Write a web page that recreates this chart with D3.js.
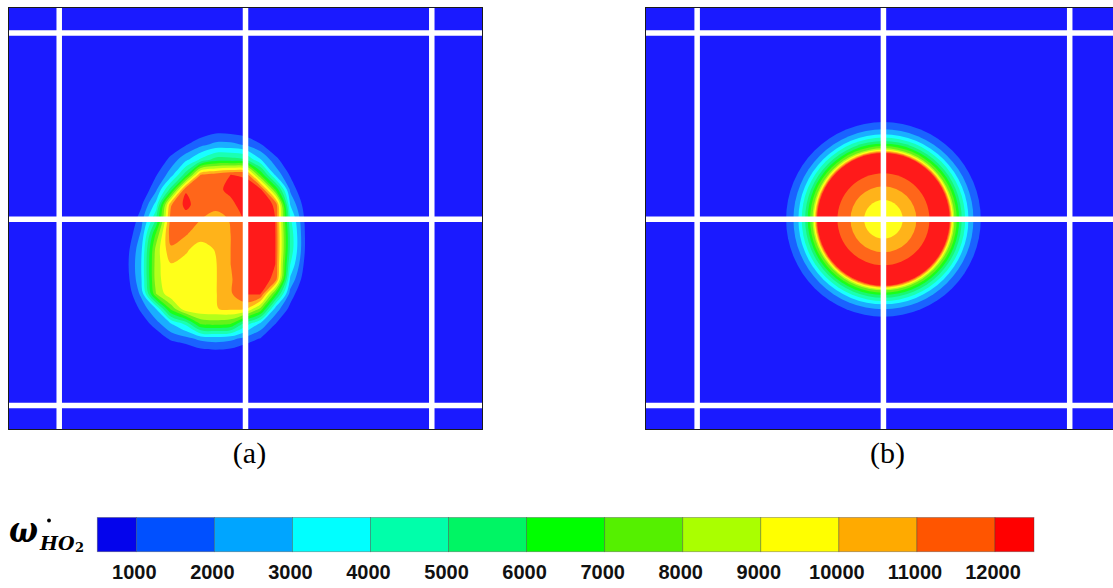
<!DOCTYPE html>
<html><head><meta charset="utf-8">
<script src="https://cdn.jsdelivr.net/npm/d3@7"></script>
<style>html,body{margin:0;padding:0;background:#fff;} svg{display:block;}</style>
</head><body>
<svg id="chart" width="1113" height="588"></svg>
<script>
// ---------------- data ----------------
const levels = [1000, 2000, 3000, 4000, 5000, 6000, 7000, 8000, 9000, 10000, 11000, 12000];
const tickLabels = ["1000", "2000", "3000", "4000", "5000", "6000", "7000", "8000", "9000", "10000", "11000", "12000"];
const barRange = [500, 12500];
const barColors = ["#0404ec", "#0050ff", "#00a5ff", "#00ffff", "#00ffaa", "#00f564", "#00ff00", "#55f000",
                   "#aaff00", "#ffff00", "#ffaa00", "#ff5500", "#ff0000"];
const gridLines = [-1, 0, 1];
const panelLabels = ["(a)", "(b)"];

// panel (a): reaction-rate field read on a regular grid
const fieldAX = [-0.72, -0.64, -0.56, -0.48, -0.40, -0.32, -0.24, -0.16, -0.08, 0.00, 0.08, 0.16, 0.24, 0.32, 0.40];
const fieldAY = [0.56, 0.48, 0.40, 0.32, 0.24, 0.16, 0.08, 0.00, -0.08, -0.16, -0.24, -0.32, -0.40, -0.48, -0.56, -0.64, -0.72, -0.80];
const fieldA = [
  [-3000,-3000,-3000,-3000,-3000,-2400,-1700,-1466,-1466,-1900,-2700,-3000,-3000,-3000,-3000],
  [-3000,-3000,-3000,-3000,-2300,-640,180,589,520,300,-640,-2000,-3000,-3000,-3000],
  [-3000,-3000,-3000,-1466,40,930,1742,2308,2308,1890,1140,-100,-1740,-3000,-3000],
  [-3000,-3000,-1466,-96,1380,2747,4200,5505,5505,5126,3100,1390,-100,-2000,-3000],
  [-3000,-2000,-500,900,2520,5550,11000,11500,12000,11900,6950,2800,860,-780,-2900],
  [-3000,-1740,-28,1810,5440,11900,11600,11800,12200,12300,12300,7000,1815,-165,-2000],
  [-3000,-1050,800,3360,10900,12300,11400,11400,11800,12400,12400,11900,2970,450,-1600],
  [-2290,-370,1580,4980,11500,11500,11000,10500,11100,12200,12500,12000,4200,810,-1190],
  [-1950,100,2176,7200,11600,11100,10300,10500,11000,12200,12500,12050,4780,950,-1055],
  [-1530,510,2750,8400,10800,10100,9700,10050,11000,12200,12500,12050,4780,950,-1055],
  [-1400,640,2970,8600,9950,9800,9800,9930,11000,12150,12500,12000,4050,670,-1330],
  [-1530,510,2860,8600,9800,9800,9800,9930,10850,12050,12400,11800,2860,315,-1800],
  [-1950,180,2260,8000,9800,9800,9800,9930,10850,12050,12100,6800,1600,-230,-2300],
  [-2600,-370,1270,3030,7300,9800,9900,9950,10200,10200,7800,2640,670,-920,-3000],
  [-3000,-1740,180,1600,2970,4280,7200,7400,7100,4530,2810,1040,-370,-2300,-3000],
  [-3000,-3000,-1500,40,1270,1690,2300,2500,2300,1690,950,-500,-2500,-3000,-3000],
  [-3000,-3000,-3000,-2300,-900,-230,360,490,360,-190,-900,-2300,-3000,-3000,-3000],
  [-3000,-3000,-3000,-3000,-3000,-2000,-1550,-1400,-1550,-2000,-3000,-3000,-3000,-3000,-3000]
];

// panel (b): axisymmetric kernel, radius where each level is crossed
const bCenter = [0, 0];
const bOuterRadii = [0.5224, 0.4832, 0.4564, 0.4387, 0.4204, 0.4064, 0.3936, 0.3812, 0.3742, 0.3667, 0.3613, 0.3560]; // levels 1000..12000 (rising)
const bInnerLevels = [12000, 11000, 10000];
const bInnerRadii = [0.247, 0.177, 0.1036]; // falling towards the centre

// ---------------- layout / style ----------------
const svg = d3.select("#chart");
const panelColors = barColors.map(c => d3.interpolateRgb(c, "#ffffff")(0.1));
panelColors[0] = "#1a1aff";

const yDom = [-1.131, 1.14];
const panels = [
  {x0: 8, x1: 483, xDom: [-1.275, 1.275]},
  {x0: 645, x1: 1120, xDom: [-1.28, 1.27]}
];
const yRange = [430, 7];

panels.forEach((p, k) => {
  const xs = d3.scaleLinear().domain(p.xDom).range([p.x0, p.x1]);
  const ys = d3.scaleLinear().domain(yDom).range(yRange);
  const clipId = "clip" + k;
  svg.append("clipPath").attr("id", clipId).append("rect")
    .attr("x", p.x0).attr("y", yRange[1]).attr("width", p.x1 - p.x0).attr("height", yRange[0] - yRange[1]);
  const g = svg.append("g").attr("clip-path", `url(#${clipId})`);
  g.append("rect").attr("x", p.x0).attr("y", yRange[1]).attr("width", p.x1 - p.x0)
    .attr("height", yRange[0] - yRange[1]).attr("fill", panelColors[0]);

  if (k === 0) {
    const nx = fieldAX.length, ny = fieldAY.length;
    const flat = fieldA.flat();
    const cs = d3.contours().size([nx, ny]).thresholds(levels)(flat);
    const sx = fieldAX[1] - fieldAX[0], sy = fieldAY[1] - fieldAY[0];
    const line = d3.line()
      .x(q => xs(fieldAX[0] + (q[0] - 0.5) * sx))
      .y(q => ys(fieldAY[0] + (q[1] - 0.5) * sy))
      .curve(d3.curveCatmullRomClosed.alpha(0.5));
    cs.forEach(c => {
      const d = c.coordinates.map(poly => poly.map(ring => line(ring.slice(0, -1))).join("")).join("");
      if (d) g.append("path").attr("d", d).attr("fill", panelColors[levels.indexOf(c.value) + 1]).attr("fill-rule", "evenodd");
    });
  } else {
    const cx = xs(bCenter[0]), cy = ys(bCenter[1]);
    const rpx = r => Math.abs(xs(r) - xs(0));
    levels.forEach((lv, i) => {
      g.append("circle").attr("cx", cx).attr("cy", cy).attr("r", rpx(bOuterRadii[i])).attr("fill", panelColors[i + 1]);
    });
    bInnerLevels.forEach((lv, i) => {
      g.append("circle").attr("cx", cx).attr("cy", cy).attr("r", rpx(bInnerRadii[i])).attr("fill", panelColors[levels.indexOf(lv)]);
    });
  }

  // white mesh lines
  gridLines.forEach(v => {
    g.append("line").attr("x1", xs(v)).attr("x2", xs(v)).attr("y1", yRange[1]).attr("y2", yRange[0])
      .attr("stroke", "#ffffff").attr("stroke-width", 5.5);
    g.append("line").attr("x1", p.x0).attr("x2", p.x1).attr("y1", ys(v)).attr("y2", ys(v))
      .attr("stroke", "#ffffff").attr("stroke-width", 5.5);
  });
  svg.append("rect").attr("x", p.x0 + 0.5).attr("y", yRange[1] + 0.5).attr("width", p.x1 - p.x0 - 1)
    .attr("height", yRange[0] - yRange[1] - 1).attr("fill", "none").attr("stroke", "#1a1a1a").attr("stroke-width", 1);

  svg.append("text").attr("x", xs(0) + 4).attr("y", 463).attr("text-anchor", "middle")
    .attr("font-family", "'Liberation Serif', 'Times New Roman', serif").attr("font-size", 30)
    .attr("fill", "#000").text(panelLabels[k]);
});

// ---------------- colour bar ----------------
const cb = d3.scaleLinear().domain(barRange).range([97.3, 1034]);
const edges = [barRange[0], ...levels, barRange[1]];
const cbTop = 517.5, cbBot = 551.7;
barColors.forEach((c, i) => {
  svg.append("rect").attr("x", cb(edges[i])).attr("y", cbTop).attr("width", cb(edges[i + 1]) - cb(edges[i]))
    .attr("height", cbBot - cbTop).attr("fill", c).attr("stroke", "rgba(60,60,60,0.45)").attr("stroke-width", 0.8);
});
levels.forEach((lv, i) => {
  svg.append("text").attr("x", cb(lv) - 2).attr("y", 579).attr("text-anchor", "middle")
    .attr("font-family", "'Liberation Sans', Arial, sans-serif").attr("font-weight", "bold")
    .attr("font-size", 20).attr("fill", "#111").text(tickLabels[i]);
});

// label  omega-dot HO2
const serif = "'DejaVu Serif', 'Liberation Serif', serif";
svg.append("text").attr("x", 9).attr("y", 542).attr("font-family", serif).attr("font-weight", "bold")
  .attr("font-style", "italic").attr("font-size", 35).attr("textLength", 29).attr("lengthAdjust", "spacingAndGlyphs")
  .attr("fill", "#000").text("ω");
svg.append("circle").attr("cx", 49).attr("cy", 520.5).attr("r", 1.9).attr("fill", "#000");
const sub = svg.append("text").attr("x", 40).attr("y", 550).attr("font-family", serif).attr("font-weight", "bold")
  .attr("font-style", "italic").attr("fill", "#000");
sub.append("tspan").attr("font-size", 19).text("HO");
sub.append("tspan").attr("font-size", 13).attr("font-style", "normal").attr("dy", 1.5).attr("dx", 0.5).text("2");
</script>
</body></html>
